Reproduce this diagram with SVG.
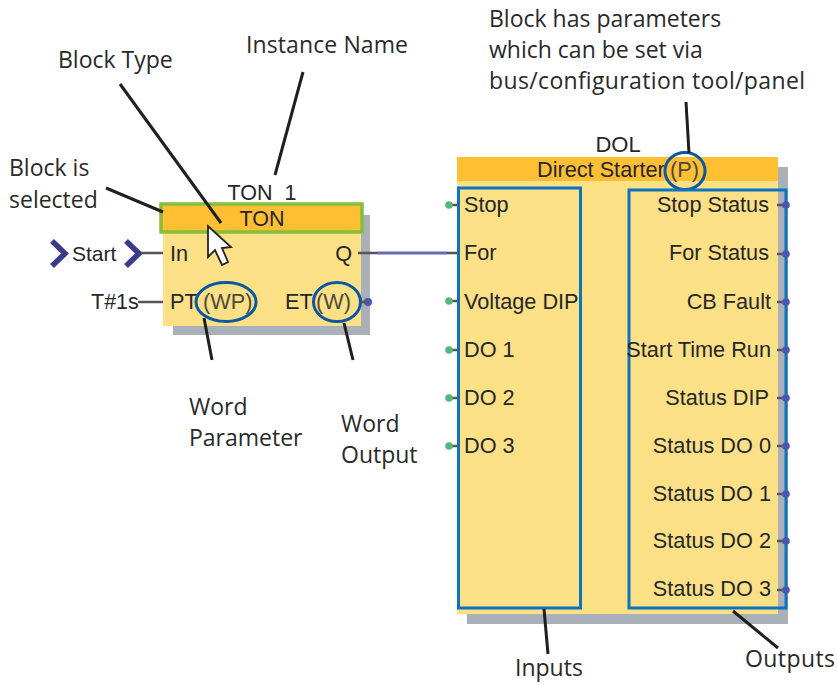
<svg xmlns="http://www.w3.org/2000/svg" width="837" height="685" viewBox="0 0 837 685">
<style>
text{font-family:"Liberation Sans",Arial,sans-serif;fill:#26262c}
.s{font-size:21.700px}
.e{text-anchor:end}
.m{text-anchor:middle}
.c{font-family:"Open Sans","Noto Sans",sans-serif;font-size:23px;fill:#2a2a2a}
.l{stroke:#1f1f1f;stroke-width:3;fill:none}
.o{stroke:#0a57a4;stroke-width:3;fill:none}
.b{stroke:#0a74c0;stroke-width:3;fill:none}
.p{stroke:#55565c;stroke-width:2.500;fill:none}
.dot{fill:#4a55b5}
.g{fill:#55b877}
.w{fill:#4a4a3c}
</style>
<rect width="837" height="685" fill="#fff"/>
<g id="ton-block">
<rect x="173" y="215" width="197" height="120" fill="#aab0b8"/>
<rect x="163" y="232" width="198" height="94" fill="#fbe086"/>
<text x="262" y="200" class="m" font-size="21.500">TON_1</text>
<rect x="161" y="204" width="201" height="28" fill="#ffbf33" stroke="#86bd3c" stroke-width="3.500"/>
<text x="262" y="226" class="m" font-size="21.500">TON</text>
<text x="170" y="261" class="s">In</text>
<text x="352" y="261" class="s e">Q</text>
<text x="170" y="309" class="s">PT</text>
<text x="203" y="309" class="s w">(WP)</text>
<text x="285" y="309" class="s">ET</text>
<text x="316" y="309" class="s w">(W)</text>
<circle cx="368" cy="302" r="4" class="dot"/>
<ellipse cx="226" cy="302" rx="30" ry="19.500" class="o"/>
<ellipse cx="337" cy="302" rx="23.500" ry="19.500" class="o"/>
</g>
<g id="start-input">
<path d="M52 241 L65 253.500 L52 266M126 241 L139 253.500 L126 266" stroke="#3c3a8c" stroke-width="5.500" fill="none"/>
<text x="72" y="261" font-size="21">Start</text>
</g>
<text x="91" y="309" font-size="21.500">T#1s</text>
<g id="dol-block">
<rect x="467" y="167" width="321" height="457" fill="#aab0b8"/>
<rect x="457" y="157" width="321" height="457" fill="#fbe086"/>
<rect x="457" y="157" width="321" height="24" fill="#ffbf33"/>
<text x="618" y="152" class="m" font-size="22">DOL</text>
<text x="537" y="177" class="s">Direct Starter</text>
<text x="670" y="177" class="s w">(P)</text>
<ellipse cx="685" cy="171" rx="20" ry="18.500" class="o"/>
<rect x="458.500" y="188" width="122" height="420" class="b"/>
<rect x="629" y="190" width="157" height="418" class="b"/>
<path class="p" d="M449 205H458M449 301H458M449 350H458M449 398H458M449 446H458M777 205H786M777 254H786M777 302H786M777 350H786M777 398H786M777 446H786M777 494H786M777 541H786M777 590H786"/>
<g class="g"><circle cx="449" cy="205" r="3.800"/><circle cx="449" cy="301" r="3.800"/><circle cx="449" cy="350" r="3.800"/><circle cx="449" cy="398" r="3.800"/><circle cx="449" cy="446" r="3.800"/></g>
<g class="dot"><circle cx="786" cy="205" r="3.800"/><circle cx="786" cy="254" r="3.800"/><circle cx="786" cy="302" r="3.800"/><circle cx="786" cy="350" r="3.800"/><circle cx="786" cy="398" r="3.800"/><circle cx="786" cy="446" r="3.800"/><circle cx="786" cy="494" r="3.800"/><circle cx="786" cy="541" r="3.800"/><circle cx="786" cy="590" r="3.800"/></g>
<text x="464" y="212" class="s">Stop</text>
<text x="464" y="260" class="s">For</text>
<text x="464" y="309" class="s">Voltage DIP</text>
<text x="464" y="357" class="s">DO 1</text>
<text x="464" y="405" class="s">DO 2</text>
<text x="464" y="453" class="s">DO 3</text>
<text x="769" y="212" class="s e">Stop Status</text>
<text x="769" y="260" class="s e">For Status</text>
<text x="771" y="309" class="s e">CB Fault</text>
<text x="771" y="357" class="s e">Start Time Run</text>
<text x="769" y="405" class="s e">Status DIP</text>
<text x="771" y="453" class="s e">Status DO 0</text>
<text x="771" y="501" class="s e">Status DO 1</text>
<text x="771" y="548" class="s e">Status DO 2</text>
<text x="771" y="596" class="s e">Status DO 3</text>
</g>
<g id="connectors">
<path d="M377 253H447" stroke="#6a68b4" stroke-width="3" fill="none"/>
<path class="p" d="M358 253H377M447 253H458M141 253H163M138 302H163M361 302H368"/>
<path class="l" d="M303 72 L275 175"/>
<path class="l" d="M120 84 L221 223"/>
<path class="l" d="M106 188 L163 212"/>
<path class="l" d="M204 318 L212 360M344 323 L353 360"/>
<path class="l" d="M686 102 L689 153"/>
<path class="l" d="M544 609 L548 654M733 611 L778 648"/>
</g>
<g id="cursor">
<path d="M208 226 V257 L215 250 L222 265 L228 262 L222 248 L231 247 Z" fill="#fff" stroke="#222" stroke-width="1.800"/>
</g>
<g id="annotations">
<text x="246" y="53" class="c" textLength="162">Instance Name</text>
<text x="58" y="68" class="c">Block Type</text>
<text x="9" y="176" class="c">Block is</text>
<text x="9" y="208" class="c">selected</text>
<text x="189" y="415" class="c">Word</text>
<text x="189" y="446" class="c">Parameter</text>
<text x="341" y="432" class="c">Word</text>
<text x="341" y="463" class="c">Output</text>
<text x="489" y="27" class="c">Block has parameters</text>
<text x="489" y="58" class="c">which can be set via</text>
<text x="489" y="89" class="c" textLength="316">bus/configuration tool/panel</text>
<text x="515" y="676" class="c">Inputs</text>
<text x="745" y="667" class="c" textLength="90">Outputs</text>
</g>
</svg>
